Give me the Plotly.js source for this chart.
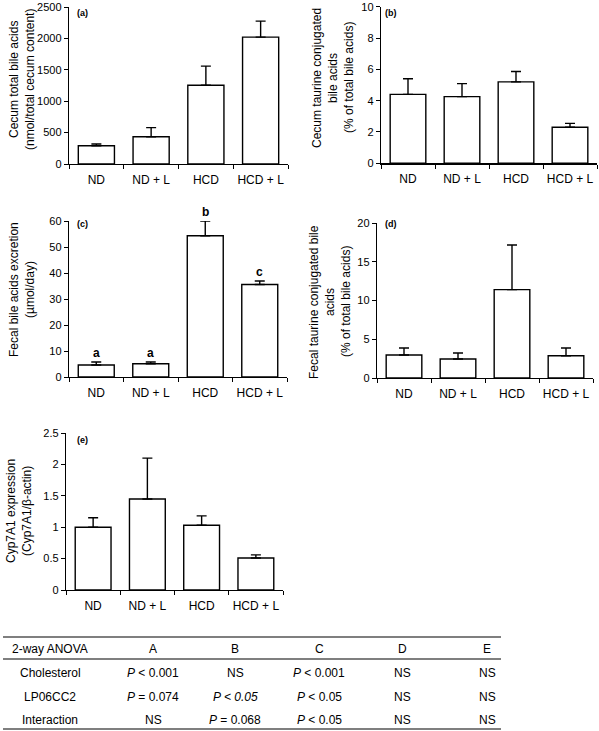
<!DOCTYPE html>
<html>
<head>
<meta charset="utf-8">
<script src="https://cdn.plot.ly/plotly-3.0.1.min.js"></script>
<style>html,body{margin:0;padding:0;background:#fff;}#chart{width:599px;height:731px;}</style>
</head>
<body>
<div id="chart"></div>
<script>
// ---- data ----
const categories = ['ND', 'ND + L', 'HCD', 'HCD + L'];

const cecumTotal = [290, 435, 1255, 2020];
const cecumTotalErr = [28, 144, 303, 255];

const cecumTaurine = [4.4, 4.26, 5.2, 2.3];
const cecumTaurineErr = [1.0, 0.83, 0.66, 0.25];

const fecalExcretion = [4.6, 5.1, 54.3, 35.6];
const fecalExcretionErr = [1.15, 0.65, 5.7, 1.3];
const fecalLetters = ['a', 'a', 'b', 'c'];

const fecalTaurine = [2.97, 2.45, 11.4, 2.88];
const fecalTaurineErr = [0.9, 0.77, 5.76, 1.0];

const cyp7a1 = [1.0, 1.45, 1.03, 0.51];
const cyp7a1Err = [0.15, 0.65, 0.15, 0.05];

const panelLabels = ['(a)', '(b)', '(c)', '(d)', '(e)'];
const yTitleA = ['Cecum total bile acids', '(nmol/total cecum content)'];
const yTitleB = ['Cecum taurine conjugated', 'bile acids', '(% of total bile acids)'];
const yTitleC = ['Fecal bile acids excretion', '(µmol/day)'];
const yTitleD = ['Fecal taurine conjugated bile', 'acids', '(% of total bile acids)'];
const yTitleE = ['Cyp7A1 expression', '(Cyp7A1/β-actin)'];

const tableHeader = ['2-way ANOVA', 'A', 'B', 'C', 'D', 'E'];
const tableRowCholesterol = ['Cholesterol', '<i>P</i> < 0.001', 'NS', '<i>P</i> < 0.001', 'NS', 'NS'];
const tableRowLP = ['LP06CC2', '<i>P</i> = 0.074', '<i>P < 0.05</i>', '<i>P</i> < 0.05', 'NS', 'NS'];
const tableRowInteraction = ['Interaction', 'NS', '<i>P</i> = 0.068', '<i>P</i> < 0.05', 'NS', 'NS'];

// ---- layout helpers (pixel -> paper) ----
const W = 599, H = 731;
const px = x => x / W;
const py = y => 1 - y / H;
const FONT = 'Liberation Sans, Arial, Helvetica, sans-serif';

function barTrace(vals, errs, xa, ya) {
  return {
    type: 'bar', x: categories, y: vals, xaxis: xa, yaxis: ya,
    marker: {color: '#ffffff', line: {color: '#000000', width: 1.4}},
    error_y: {type: 'data', symmetric: false, array: errs, arrayminus: errs.map(() => 0),
              color: '#000000', thickness: 1.4, width: 5},
    hoverinfo: 'skip', showlegend: false
  };
}

const traces = [
  barTrace(cecumTotal, cecumTotalErr, 'x', 'y'),
  barTrace(cecumTaurine, cecumTaurineErr, 'x2', 'y2'),
  barTrace(fecalExcretion, fecalExcretionErr, 'x3', 'y3'),
  barTrace(fecalTaurine, fecalTaurineErr, 'x4', 'y4'),
  barTrace(cyp7a1, cyp7a1Err, 'x5', 'y5')
];

function xAxis(domain, anchor) {
  return {
    domain: domain, anchor: anchor, type: 'category', tickangle: 0,
    showline: true, linecolor: '#000', linewidth: 1.2,
    ticks: 'outside', tickson: 'boundaries', ticklen: 4, tickcolor: '#000', tickwidth: 1,
    tickfont: {family: FONT, size: 12, color: '#000'}, ticklabelstandoff: 4,
    showgrid: false, zeroline: false, fixedrange: true
  };
}
function yAxis(domain, anchor, range, dtick) {
  return {
    domain: domain, anchor: anchor, range: range, dtick: dtick, tick0: 0,
    showline: true, linecolor: '#000', linewidth: 1.2,
    ticks: 'outside', ticklen: 4, tickcolor: '#000', tickwidth: 1,
    tickfont: {family: FONT, size: 11, color: '#000'},
    showgrid: false, zeroline: false, fixedrange: true
  };
}

const annotations = [];
// panel labels
const labelPos = [[82, 13], [391, 13], [82, 224], [391, 224], [82, 440]];
panelLabels.forEach((t, i) => {
  annotations.push({xref: 'paper', yref: 'paper', x: px(labelPos[i][0]), y: py(labelPos[i][1]),
    text: '<b>' + t + '</b>', showarrow: false, xanchor: 'center', yanchor: 'middle',
    font: {family: FONT, size: 9, color: '#000'}});
});
// y-axis titles: one rotated annotation per line
const titleBlocks = [[yTitleA, 22, 80], [yTitleB, 333, 78], [yTitleC, 22, 290], [yTitleD, 330, 302], [yTitleE, 19, 511]];
const LINE = 16;
titleBlocks.forEach(([lines, cx, cy]) => {
  lines.forEach((t, k) => {
    annotations.push({xref: 'paper', yref: 'paper', x: px(cx + (k - (lines.length - 1) / 2) * LINE), y: py(cy),
      text: t, textangle: -90, showarrow: false, xanchor: 'center', yanchor: 'middle',
      font: {family: FONT, size: 12, color: '#000'}});
  });
});
// significance letters in (c)
fecalLetters.forEach((t, i) => {
  annotations.push({xref: 'x3', yref: 'y3', x: categories[i], y: fecalExcretion[i] + fecalExcretionErr[i],
    text: '<b>' + t + '</b>', showarrow: false, xanchor: 'center', yanchor: 'bottom', yshift: 0,
    font: {family: FONT, size: 12, color: '#000'}});
});
// table
const colX = [50, 153, 235, 319, 402, 487];
const rowY = [649, 673, 697, 720];
[tableHeader, tableRowCholesterol, tableRowLP, tableRowInteraction].forEach((row, r) => {
  row.forEach((cell, c) => {
    annotations.push({xref: 'paper', yref: 'paper', x: px(colX[c]), y: py(rowY[r]),
      text: cell, showarrow: false, xanchor: 'center', yanchor: 'middle',
      font: {family: FONT, size: 12, color: '#000'}});
  });
});

const shapes = [637, 659, 729].map(y => ({
  type: 'line', xref: 'paper', yref: 'paper', x0: px(3), x1: px(501), y0: py(y), y1: py(y),
  line: {color: '#000', width: 1.2}
}));

const layout = {
  width: W, height: H,
  margin: {l: 0, r: 0, t: 0, b: 0},
  paper_bgcolor: '#fff', plot_bgcolor: 'rgba(0,0,0,0)',
  bargap: 0.34, showlegend: false,
  font: {family: FONT, color: '#000'},
  xaxis: xAxis([px(69), px(288)], 'y'),
  yaxis: yAxis([py(164), py(7)], 'x', [0, 2500], 500),
  xaxis2: xAxis([px(381), px(597)], 'y2'),
  yaxis2: yAxis([py(163.3), py(6.7)], 'x2', [0, 10], 2),
  xaxis3: xAxis([px(69), px(287)], 'y3'),
  yaxis3: yAxis([py(377), py(221)], 'x3', [0, 60], 10),
  xaxis4: xAxis([px(377), px(593)], 'y4'),
  yaxis4: yAxis([py(378), py(223)], 'x4', [0, 20], 5),
  xaxis5: xAxis([px(66), px(283)], 'y5'),
  yaxis5: yAxis([py(590), py(433)], 'x5', [0, 2.5], 0.5),
  annotations: annotations,
  shapes: shapes
};

Plotly.newPlot('chart', traces, layout, {displayModeBar: false, staticPlot: true});
</script>
</body>
</html>
